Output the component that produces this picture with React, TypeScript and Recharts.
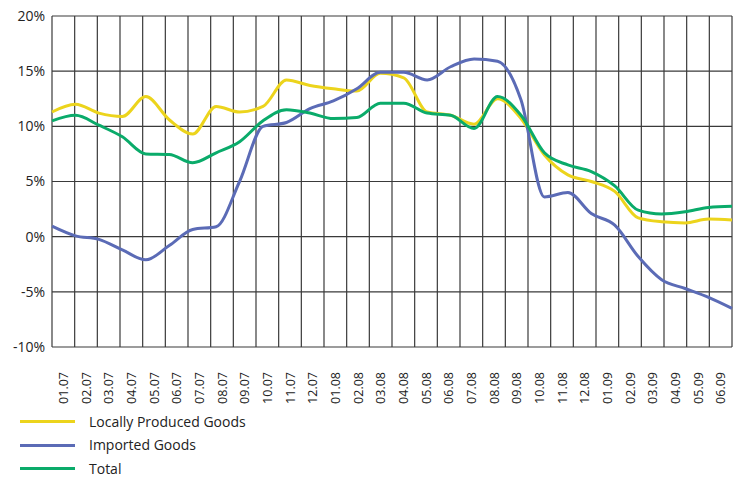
import React from 'react'
import { LineChart, Line, XAxis, YAxis, CartesianGrid } from 'recharts'

const months = [
  '01.07', '02.07', '03.07', '04.07', '05.07', '06.07', '07.07', '08.07', '09.07', '10.07',
  '11.07', '12.07', '01.08', '02.08', '03.08', '04.08', '05.08', '06.08', '07.08', '08.08',
  '09.08', '10.08', '11.08', '12.08', '01.09', '02.09', '03.09', '04.09', '05.09', '06.09',
]

const locallyProduced = [
  11.3, 12.0, 11.2, 10.9, 12.7, 10.6, 9.3, 11.8, 11.3, 11.8,
  14.2, 13.7, 13.4, 13.2, 14.8, 14.4, 11.3, 11.0, 10.2, 12.5,
  10.7, 7.4, 5.6, 5.0, 4.1, 1.7, 1.35, 1.25, 1.6, 1.5,
]

const imported = [
  0.95, 0.07, -0.25, -1.2, -2.1, -0.8, 0.65, 0.9, 5.0, 10.0,
  10.35, 11.6, 12.3, 13.4, 14.9, 14.9, 14.2, 15.4, 16.1, 15.9,
  12.4, 3.6, 4.0, 2.1, 1.04, -1.8, -3.9, -4.7, -5.5, -6.5,
]

const total = [
  10.5, 11.0, 10.1, 9.05, 7.5, 7.45, 6.7, 7.6, 8.6, 10.5,
  11.5, 11.2, 10.7, 10.8, 12.1, 12.1, 11.2, 11.0, 9.8, 12.7,
  11.0, 7.6, 6.5, 5.9, 4.6, 2.4, 2.05, 2.25, 2.65, 2.75,
]

const yTicks = [-10, -5, 0, 5, 10, 15, 20]

const series = [
  { key: 'local', name: 'Locally Produced Goods', color: '#ecd41c' },
  { key: 'imported', name: 'Imported Goods', color: '#5b6bb6' },
  { key: 'total', name: 'Total', color: '#0aab6a' },
]

const data = months.map((m, i) => ({
  idx: i,
  pos: i + 0.5,
  month: m,
  local: locallyProduced[i],
  imported: imported[i],
  total: total[i],
}))

const FONT = '"Open Sans", "Noto Sans", sans-serif'

function MonthTick(props: any) {
  const { x, y, payload } = props
  const label = months[Math.round(payload.value - 0.5)]
  return (
    <text
      x={x}
      y={y + 17}
      transform={`rotate(-90, ${x}, ${y + 17})`}
      textAnchor="end"
      dy="0.36em"
      fontSize={12.5}
      fontFamily={FONT}
      fill="#222"
    >
      {label}
    </text>
  )
}

export default function App() {
  return (
    <div style={{ position: 'relative', width: 737, height: 479, background: '#fff', fontFamily: FONT, overflow: 'hidden' }}>
      <style>{'body{margin:0}'}</style>
      <LineChart width={737} height={479} data={data} margin={{ top: 16, right: 5, left: 0, bottom: 79 }}>
        <CartesianGrid
          stroke="#3a3a3a"
          strokeWidth={1.2}
          xAxisId="label"
          verticalCoordinatesGenerator={({ offset }: any) =>
            Array.from({ length: months.length + 1 }, (_, k) => offset.left + (k * offset.width) / months.length)
          }
        />
        <XAxis xAxisId="line" dataKey="idx" type="number" domain={[0, months.length - 1]} hide />
        <XAxis
          xAxisId="label"
          dataKey="pos"
          type="number"
          domain={[0, months.length]}
          ticks={months.map((_, i) => i + 0.5)}
          interval={0}
          tick={<MonthTick />}
          axisLine={false}
          tickLine={false}
          height={53}
        />
        <YAxis
          domain={[-10, 20]}
          ticks={yTicks}
          tickFormatter={(v: number) => `${v}%`}
          axisLine={false}
          tickLine={false}
          tickSize={0}
          tickMargin={7}
          width={52}
          tick={{ fontSize: 14, fill: '#222', fontFamily: FONT }}
        />
        {series.map((s) => (
          <Line
            key={s.key}
            xAxisId="line"
            type="monotone"
            dataKey={s.key}
            stroke={s.color}
            strokeWidth={3}
            dot={false}
            isAnimationActive={false}
          />
        ))}
      </LineChart>
      <div style={{ position: 'absolute', left: 20, top: 410 }}>
        {series.map((s) => (
          <div key={s.key} style={{ display: 'flex', alignItems: 'center', height: 23.5, lineHeight: '14px' }}>
            <div style={{ width: 55, height: 3, background: s.color, marginRight: 14 }} />
            <span style={{ fontSize: 14, color: '#222' }}>{s.name}</span>
          </div>
        ))}
      </div>
    </div>
  )
}
